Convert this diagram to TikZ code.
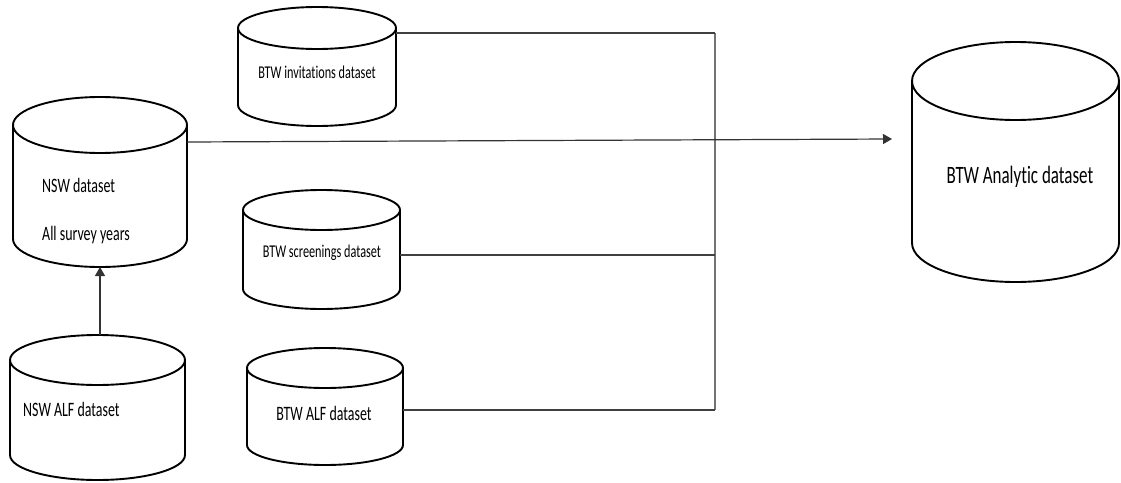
\documentclass[tikz,border=0pt]{standalone}
\usepackage{fontspec}
\setmainfont{Carlito}[FakeStretch=0.68,Ligatures={NoCommon}]
\usetikzlibrary{fit,arrows.meta}
% name, left, right, top, bottom, ry  (pixel units, y downwards)
\newcommand\dbcyl[6]{%
  \coordinate (#1-nw) at (#2,#4);
  \coordinate (#1-se) at (#3,#5);
  \node[cylbox, fit=(#1-nw)(#1-se)] (#1) {};
  \pgfmathsetmacro\cylrx{(#3-#2)/2}%
  \draw[cylline] (#2,#4+#6) -- (#2,#5-#6)
    arc[start angle=180,end angle=360,x radius=\cylrx pt,y radius=#6pt]
    -- (#3,#4+#6)
    arc[start angle=0,end angle=180,x radius=\cylrx pt,y radius=#6pt]
    arc[start angle=180,end angle=360,x radius=\cylrx pt,y radius=#6pt];
}
\begin{document}
\begin{tikzpicture}[x=1pt,y=-1pt,
  cylline/.style={line width=1.9pt, black, line join=round},
  cylbox/.style={inner sep=0pt, outer sep=0pt},
  conn/.style={line width=1.2pt, black!75},
  bus/.style={line width=1.2pt, black!55},
  flow/.style={line width=1.2pt, black!80, -{Triangle[length=9pt,width=10pt]}},
  lblS/.style={inner sep=0pt, font=\fontsize{18}{20}\selectfont},
  lblM/.style={inner sep=0pt, font=\fontsize{20.5}{23}\selectfont},
  lblL/.style={inner sep=0pt, font=\fontsize{25}{28}\selectfont}]
\useasboundingbox (0,0) rectangle (1121,482);
\fill[white] (0,0) rectangle (1121,482);

\dbcyl{nsw}{13}{187}{97}{267}{28}
\dbcyl{inv}{238}{396}{7}{126}{21}
\dbcyl{scr}{243}{400}{190}{309}{20}
\dbcyl{balf}{247}{403}{348}{465}{20}
\dbcyl{nalf}{10}{185}{335}{480}{25}
\dbcyl{ana}{912}{1119}{42}{282}{39}

\node[lblM, anchor=west] (tnsw) at (42,185) {NSW dataset};
\node[lblM, anchor=west] (tyears) at (42,235) {All survey years};
\node[lblS] (tinv) at (317,72) {BTW invitations dataset};
\node[lblS] (tscr) at (322,253) {BTW screenings dataset};
\node[lblM] (tbalf) at (324,413) {BTW ALF dataset};
\node[lblM, anchor=west] (tnalf) at (23,409) {NSW ALF dataset};
\node[lblL] (tana) at (1020,177) {BTW Analytic dataset};

\coordinate (bustop) at (715,33);
\coordinate (busbot) at (715,410);

\draw[bus] (bustop) -- (busbot);
\draw[conn] ([yshift=33.5pt]inv.east) -- (bustop);
\draw[conn] ([yshift=-5.5pt]scr.east) -- ([yshift=-5.5pt]scr.east -| bustop);
\draw[conn] ([yshift=-3.5pt]balf.east) -- (busbot);
\draw[flow] ([yshift=40pt]nsw.east) -- ([xshift=-20pt,yshift=23pt]ana.west);
\draw[flow] (nalf.north -| nsw.south) -- (nsw.south);
\end{tikzpicture}
\end{document}
